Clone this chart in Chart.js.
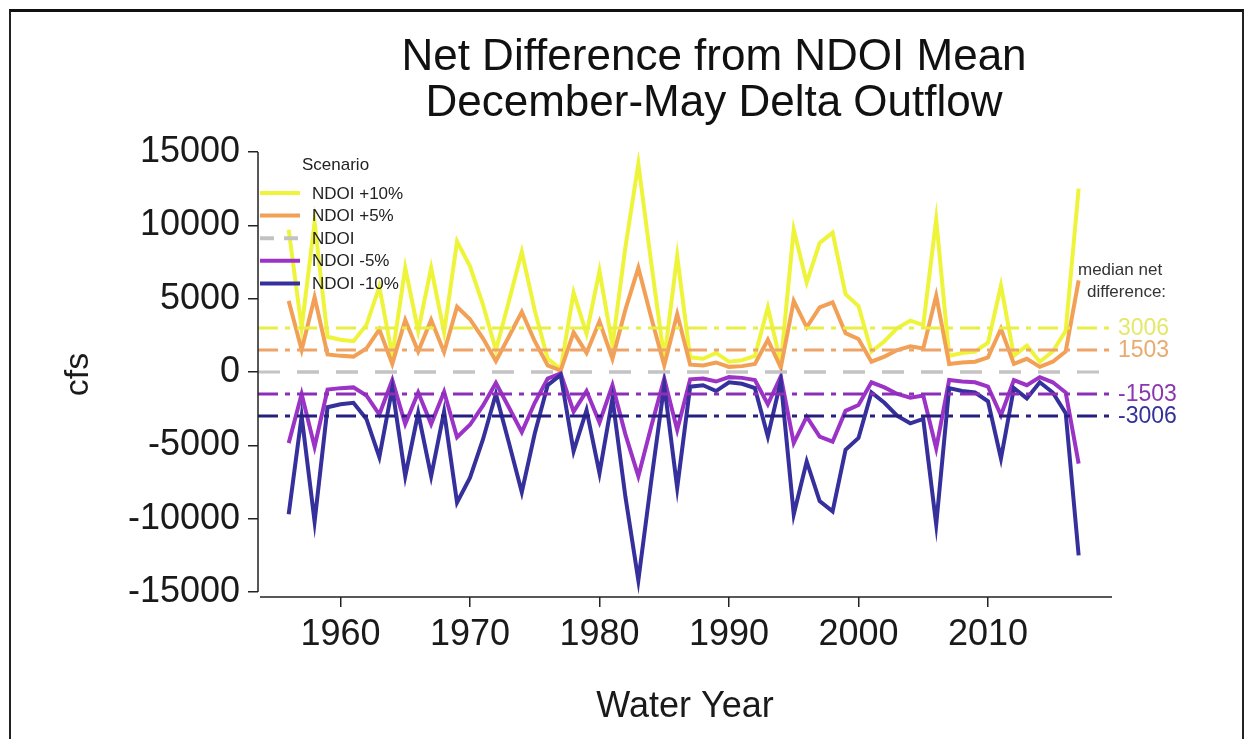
<!DOCTYPE html>
<html>
<head>
<meta charset="utf-8">
<title>Net Difference from NDOI Mean</title>
<script src="https://cdn.jsdelivr.net/npm/chart.js@4.4.0/dist/chart.umd.min.js"></script>
<style>
  html, body { margin: 0; padding: 0; background: #fff; }
  #wrap { position: relative; width: 1252px; height: 739px; overflow: hidden; }
  #frame { position: absolute; left: 9px; top: 9px; width: 1231px; height: 780px;
           border-top: 3px solid #111; border-left: 2px solid #222; border-right: 2px solid #222;
           pointer-events: none; }
  canvas { position: absolute; left: 0; top: 0; }
</style>
</head>
<body>
<div id="wrap">
  <canvas id="chart" width="1252" height="739"></canvas>
  <div id="frame"></div>
</div>
<script>
// ---- data -------------------------------------------------------------
const titleLines = ['Net Difference from NDOI Mean', 'December-May Delta Outflow'];
const legendTitle = 'Scenario';
const scenarioLabels = ['NDOI +10%', 'NDOI +5%', 'NDOI', 'NDOI -5%', 'NDOI -10%'];

const years = [
  1956, 1957, 1958, 1959, 1960, 1961, 1962, 1963, 1964, 1965,
  1966, 1967, 1968, 1969, 1970, 1971, 1972, 1973, 1974, 1975,
  1976, 1977, 1978, 1979, 1980, 1981, 1982, 1983, 1984, 1985,
  1986, 1987, 1988, 1989, 1990, 1991, 1992, 1993, 1994, 1995,
  1996, 1997, 1998, 1999, 2000, 2001, 2002, 2003, 2004, 2005,
  2006, 2007, 2008, 2009, 2010, 2011, 2012, 2013, 2014, 2015,
  2016, 2017
];

// net difference from the NDOI mean, cfs
const ndoiPlus10 = [
  9700, 3000, 10200, 2400, 2200, 2100, 3200, 5800, 1100, 7100,
  2800, 7100, 2700, 8900, 7200, 4600, 1500, 4800, 8200, 4200,
  900, 200, 5400, 2600, 6900, 1800, 8500, 14200, 7400, 900,
  7900, 1000, 900, 1300, 700, 800, 1100, 4400, 600, 9700,
  6100, 8800, 9500, 5300, 4500, 1400, 2100, 3000, 3500, 3200,
  10400, 1100, 1300, 1400, 2000, 5900, 1100, 1800, 700, 1400,
  2800, 12500
];
const ndoiPlus5 = [
  4850, 1500, 5100, 1200, 1100, 1050, 1600, 2900, 550, 3550,
  1400, 3550, 1350, 4450, 3600, 2300, 750, 2400, 4100, 2100,
  450, 100, 2700, 1300, 3450, 900, 4250, 7100, 3700, 450,
  3950, 500, 450, 650, 350, 400, 550, 2200, 300, 4850,
  3050, 4400, 4750, 2650, 2250, 700, 1050, 1500, 1750, 1600,
  5200, 550, 650, 700, 1000, 2950, 550, 900, 350, 700,
  1400, 6250
];
const ndoiBase = [
  0, 0, 0, 0, 0, 0, 0, 0, 0, 0,
  0, 0, 0, 0, 0, 0, 0, 0, 0, 0,
  0, 0, 0, 0, 0, 0, 0, 0, 0, 0,
  0, 0, 0, 0, 0, 0, 0, 0, 0, 0,
  0, 0, 0, 0, 0, 0, 0, 0, 0, 0,
  0, 0, 0, 0, 0, 0, 0, 0, 0, 0,
  0, 0
];
const ndoiMinus5 = [
  -4850, -1500, -5100, -1200, -1100, -1050, -1600, -2900, -550, -3550,
  -1400, -3550, -1350, -4450, -3600, -2300, -750, -2400, -4100, -2100,
  -450, -100, -2700, -1300, -3450, -900, -4250, -7100, -3700, -450,
  -3950, -500, -450, -650, -350, -400, -550, -2200, -300, -4850,
  -3050, -4400, -4750, -2650, -2250, -700, -1050, -1500, -1750, -1600,
  -5200, -550, -650, -700, -1000, -2950, -550, -900, -350, -700,
  -1400, -6250
];
const ndoiMinus10 = [
  -9700, -3000, -10200, -2400, -2200, -2100, -3200, -5800, -1100, -7100,
  -2800, -7100, -2700, -8900, -7200, -4600, -1500, -4800, -8200, -4200,
  -900, -200, -5400, -2600, -6900, -1800, -8500, -14200, -7400, -900,
  -7900, -1000, -900, -1300, -700, -800, -1100, -4400, -600, -9700,
  -6100, -8800, -9500, -5300, -4500, -1400, -2100, -3000, -3500, -3200,
  -10400, -1100, -1300, -1400, -2000, -5900, -1100, -1800, -700, -1400,
  -2800, -12500
];

// median net difference per scenario
const medianValues = [3006, 1503, 0, -1503, -3006];
const medianHeading = ['median net', 'difference:'];

const xTicks = [1960, 1970, 1980, 1990, 2000, 2010];
const yTicks = [-15000, -10000, -5000, 0, 5000, 10000, 15000];

// ---- styling ----------------------------------------------------------
const FONT = "'Liberation Sans', Arial, Helvetica, sans-serif";
const lineColors  = ['#eef43a', '#f2a055', '#c2c2c2', '#9b34c6', '#36309c'];
const medianColors = ['#e8ee45', '#eda468', '#c4c4c4', '#8d2fb6', '#25207f'];
const labelColors  = ['#e4e86a', '#e8aa6e', '#c4c4c4', '#8a36b0', '#34309a'];
const ndoiDash = [22, 17];
const dashDot = [20, 7, 5, 7];

const seriesValues = [ndoiPlus10, ndoiPlus5, ndoiBase, ndoiMinus5, ndoiMinus10];

const datasets = seriesValues.map((vals, i) => ({
  label: scenarioLabels[i],
  data: vals.map((v, k) => ({ x: years[k], y: v })),
  borderColor: lineColors[i],
  borderWidth: i === 2 ? 3 : 4,
  borderDash: i === 2 ? ndoiDash : [],
  // keep the NDOI dashes in phase with the full-width zero line
  borderDashOffset: i === 2 ? (ctx) => {
    const c = ctx.chart, xs = c.scales && c.scales.x;
    if (!xs || !c.chartArea) return 0;
    const period = ndoiDash[0] + ndoiDash[1];
    return (xs.getPixelForValue(years[0]) - c.chartArea.left) % period;
  } : 0,
  pointRadius: 0,
  tension: 0,
  fill: false,
  order: 5 - i
}));

// ---- overlay drawing: axis lines, median lines, legend, labels -------
const overlay = {
  id: 'overlay',
  afterDatasetsDraw(chart) {
    const { ctx, chartArea: a, scales: { x, y } } = chart;
    ctx.save();
    medianValues.forEach((m, i) => {
      const py = y.getPixelForValue(m);
      ctx.beginPath();
      ctx.setLineDash(i === 2 ? ndoiDash : dashDot);
      ctx.lineDashOffset = 0;
      ctx.strokeStyle = medianColors[i];
      ctx.lineWidth = 3;
      ctx.moveTo(a.left, py);
      ctx.lineTo(a.right, py);
      ctx.stroke();
    });
    ctx.restore();
  },
  afterDraw(chart) {
    const { ctx, chartArea: a, scales: { x, y } } = chart;
    ctx.save();
    // axis lines
    ctx.strokeStyle = '#222';
    ctx.lineWidth = 1.5;
    ctx.beginPath();
    ctx.moveTo(a.left, y.getPixelForValue(yTicks[yTicks.length - 1]));
    ctx.lineTo(a.left, y.getPixelForValue(yTicks[0]));
    ctx.moveTo(a.left + 2, a.bottom);
    ctx.lineTo(a.right, a.bottom);
    ctx.stroke();

    // title
    ctx.fillStyle = '#111';
    ctx.textAlign = 'center';
    ctx.textBaseline = 'middle';
    ctx.font = '44px ' + FONT;
    ctx.fillText(titleLines[0], 714, 58);
    ctx.fillText(titleLines[1], 714, 104);

    // legend
    ctx.textAlign = 'left';
    ctx.font = '17px ' + FONT;
    ctx.fillStyle = '#222';
    ctx.fillText(legendTitle, a.left + 44, 165);
    scenarioLabels.forEach((lab, i) => {
      const ly = 193 + i * 22.6;
      ctx.beginPath();
      ctx.setLineDash(i === 2 ? [14, 10] : []);
      ctx.strokeStyle = lineColors[i];
      ctx.lineWidth = 4;
      ctx.moveTo(a.left + 2, ly);
      ctx.lineTo(a.left + 42, ly);
      ctx.stroke();
      ctx.fillStyle = '#222';
      ctx.fillText(lab, a.left + 54, ly + 1);
    });
    ctx.setLineDash([]);

    // median heading and values at the right end of the lines
    ctx.font = '17px ' + FONT;
    ctx.fillStyle = '#333';
    ctx.fillText(medianHeading[0], 1078, 270);
    ctx.fillText(medianHeading[1], 1087, 292);
    ctx.font = '23px ' + FONT;
    medianValues.forEach((m, i) => {
      if (m === 0) return;
      ctx.fillStyle = labelColors[i];
      ctx.fillText(String(m), a.right + 6, y.getPixelForValue(m) + 1);
    });
    ctx.restore();
  }
};

new Chart(document.getElementById('chart'), {
  type: 'line',
  data: { datasets },
  options: {
    responsive: false,
    animation: false,
    devicePixelRatio: 1,
    layout: { padding: { left: 0, right: 140, top: 152, bottom: 0 } },
    plugins: {
      legend: { display: false },
      tooltip: { enabled: false },
      title: { display: false }
    },
    scales: {
      x: {
        type: 'linear',
        min: 1953.63,
        max: 2019.575,
        afterBuildTicks: (s) => { s.ticks = xTicks.map(v => ({ value: v })); },
        afterFit: (s) => { s.height = 142; },
        border: { display: false },
        grid: { drawOnChartArea: false, drawTicks: true, tickLength: 10, color: '#222', lineWidth: 1.5 },
        ticks: {
          font: { family: FONT, size: 36 },
          color: '#1a1a1a',
          padding: 6,
          maxRotation: 0,
          callback: (v) => String(v)
        },
        title: {
          display: true,
          text: 'Water Year',
          font: { family: FONT, size: 36 },
          color: '#1a1a1a',
          padding: { top: 0, bottom: 10 }
        }
      },
      y: {
        type: 'linear',
        min: -15341,
        max: 15000,
        afterBuildTicks: (s) => { s.ticks = yTicks.map(v => ({ value: v })); },
        afterFit: (s) => { s.width = 258; },
        border: { display: false },
        grid: { drawOnChartArea: false, drawTicks: true, tickLength: 10, color: '#222', lineWidth: 1.5 },
        ticks: {
          font: { family: FONT, size: 36 },
          color: '#1a1a1a',
          padding: 8,
          callback: (v) => String(v)
        },
        title: {
          display: true,
          text: 'cfs',
          font: { family: FONT, size: 34 },
          color: '#1a1a1a',
          padding: { top: 58, bottom: 0 }
        }
      }
    }
  },
  plugins: [overlay]
});
</script>
</body>
</html>
